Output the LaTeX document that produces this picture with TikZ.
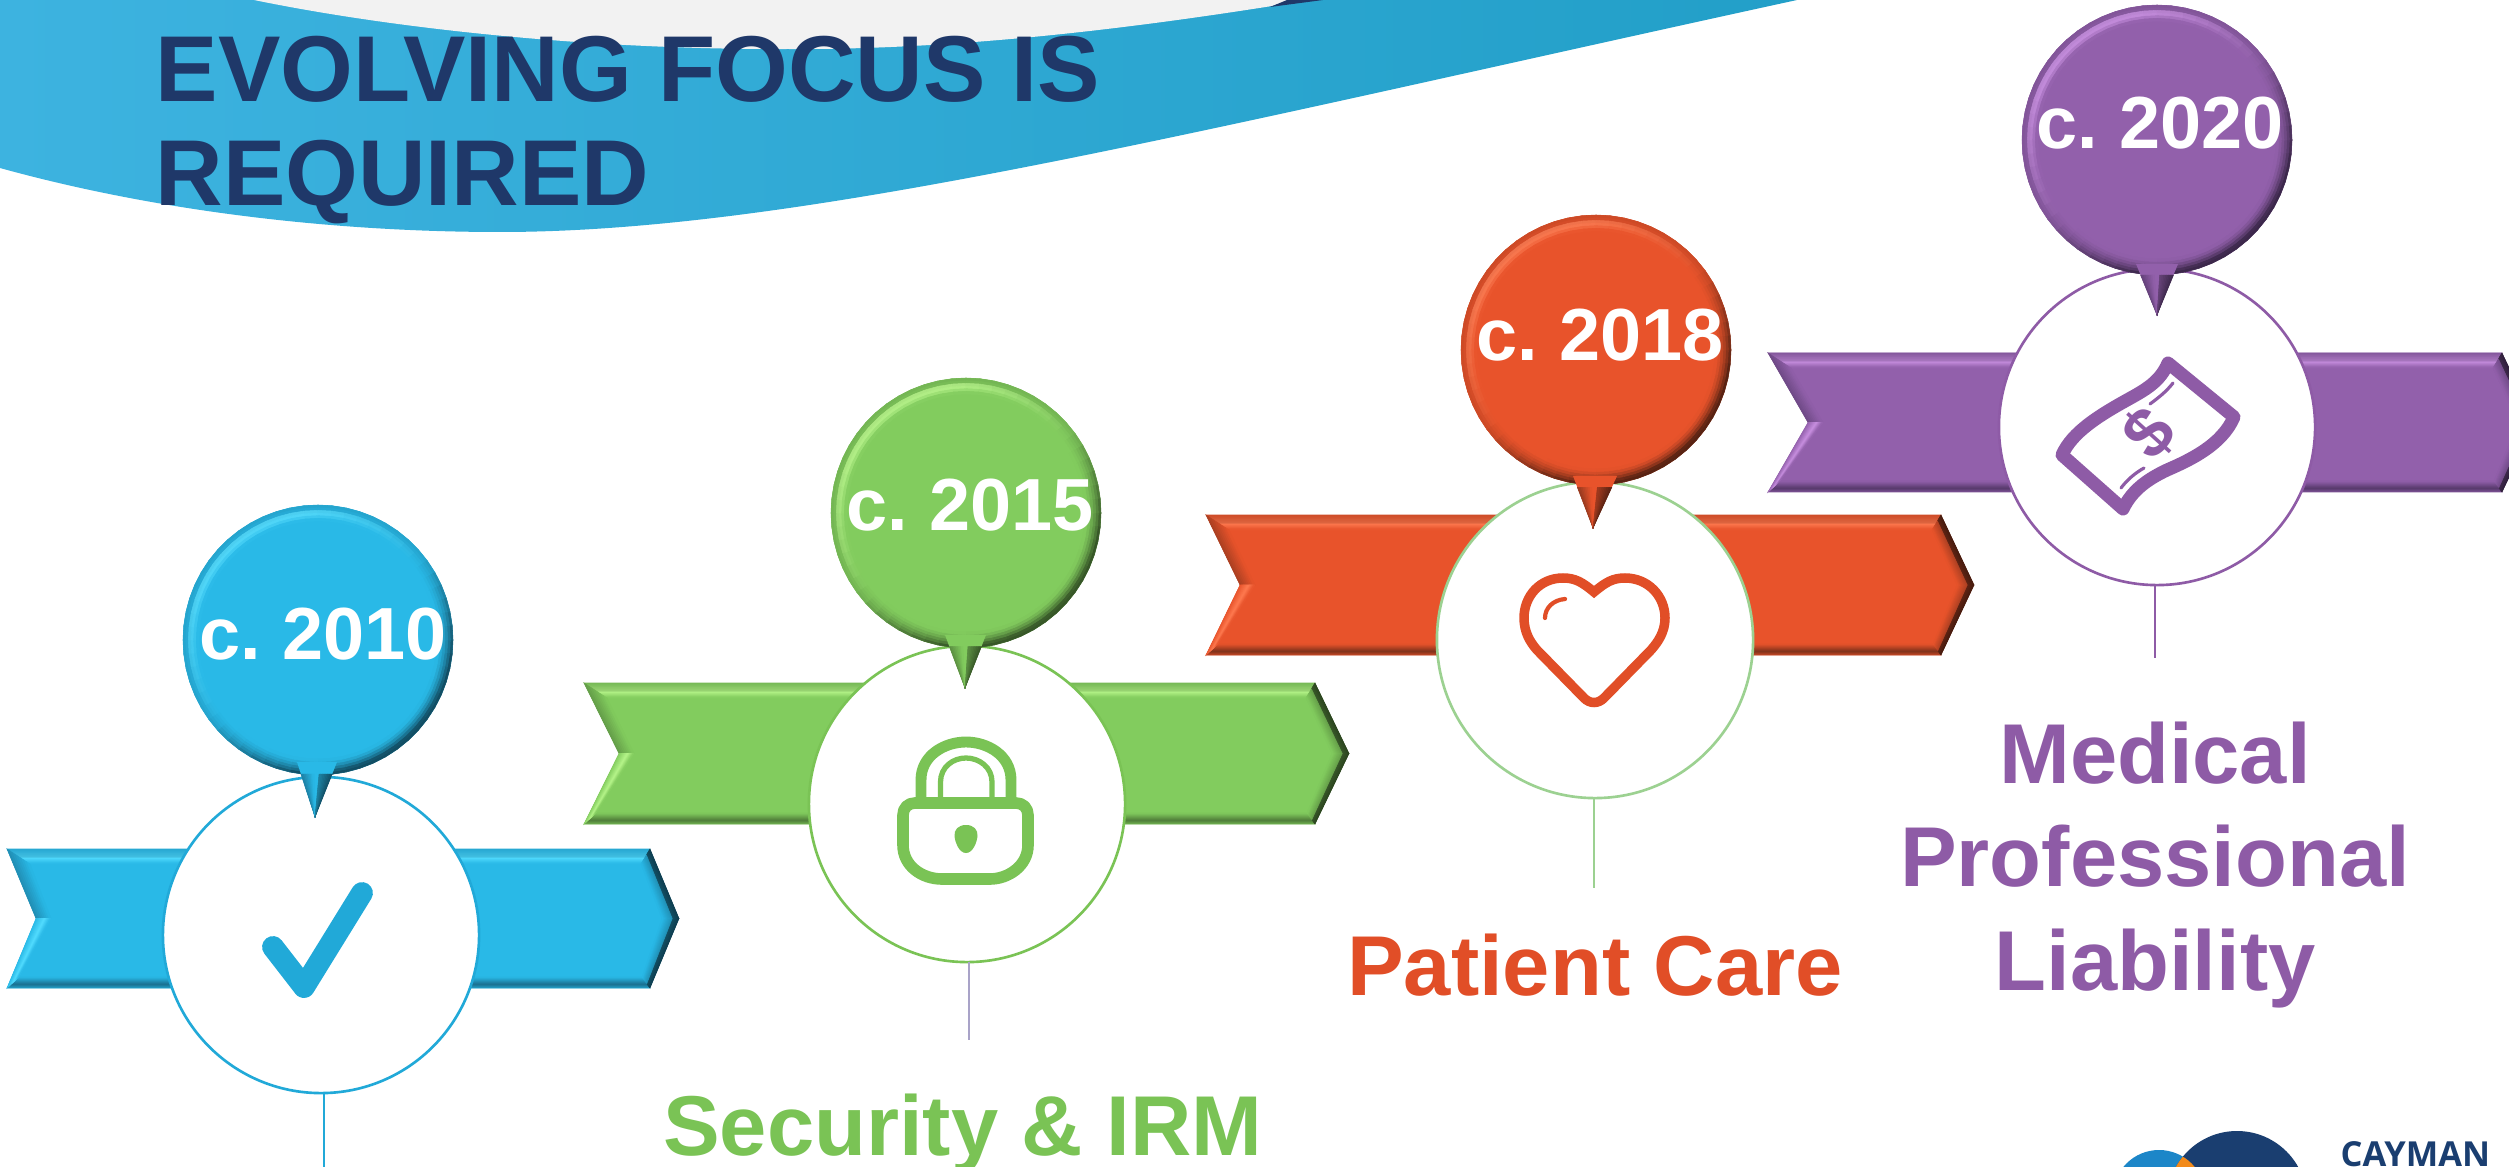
\documentclass[tikz,border=0pt]{standalone}
\usepackage{fontspec}
\setmainfont{Liberation Sans}
\newfontfamily\logofont{Open Sans}
\newfontfamily\yearfont[WordSpace=0.72]{Liberation Sans}
\usetikzlibrary{calc}
\definecolor{bB}{HTML}{29B9E7}\definecolor{bL}{HTML}{52DCFF}\definecolor{bD}{HTML}{1A6F8F}\definecolor{bI}{HTML}{21A9D8}
\definecolor{gB}{HTML}{82CC5E}\definecolor{gL}{HTML}{B6F58A}\definecolor{gD}{HTML}{4F7C39}\definecolor{gI}{HTML}{7AC355}
\definecolor{oB}{HTML}{E8532B}\definecolor{oL}{HTML}{FF7A50}\definecolor{oD}{HTML}{7E321B}\definecolor{oI}{HTML}{E14E27}
\definecolor{pB}{HTML}{9260AB}\definecolor{pL}{HTML}{C88FE0}\definecolor{pD}{HTML}{56396B}\definecolor{pI}{HTML}{8E5BA6}
\definecolor{oR}{HTML}{9CD191}\definecolor{gC}{HTML}{A9A3C8}
\definecolor{navy}{HTML}{1F3869}\definecolor{swL}{HTML}{3DB3E0}\definecolor{swR}{HTML}{229FC8}
\definecolor{logoD}{HTML}{1A3E70}\definecolor{logoL}{HTML}{1C86C8}\definecolor{logoO}{HTML}{F28A1A}
\newcommand{\bandfacet}[6]{%
  \foreach \i in {0,...,7}{%
    \pgfmathsetmacro\ta{\i/8}\pgfmathsetmacro\tb{(\i+1)/8}\pgfmathtruncatemacro\pc{100*(\i+.5)/8}%
    \path[fill=#6!\pc!#5,draw=#6!\pc!#5,line width=.15pt]
      ($(#1)!\ta!(#4)$) -- ($(#2)!\ta!(#3)$) -- ($(#2)!\tb!(#3)$) -- ($(#1)!\tb!(#4)$) -- cycle;
  }}
% x0 xnotch xshoulder xtip ytop ybot base light dark
\newcommand{\ribbonshape}[9]{%
  \pgfmathsetmacro\ymid{(#5+#6)/2}%
  \coordinate (TL) at (#1,#5);\coordinate (TR) at (#3,#5);\coordinate (TP) at (#4,\ymid);
  \coordinate (BR) at (#3,#6);\coordinate (BL) at (#1,#6);\coordinate (NT) at (#2,\ymid);
  \coordinate (iTL) at ({#1+23},{#5+15});\coordinate (iTR) at ({#3-9},{#5+15});\coordinate (iTP) at ({#4-17},\ymid);
  \coordinate (iBR) at ({#3-8},{#6-11});\coordinate (iBL) at ({#1+12},{#6-11});\coordinate (iNT) at ({#2+15},\ymid);
  \fill[#7] (TL)--(TR)--(TP)--(BR)--(BL)--(NT)--cycle;
  \coordinate (mTL) at ($(TL)!.6!(iTL)$);\coordinate (mTR) at ($(TR)!.6!(iTR)$);
  \bandfacet{TL}{TR}{mTR}{mTL}{#7!75!#9}{#8}
  \bandfacet{mTL}{mTR}{iTR}{iTL}{#8}{#7}
  \coordinate (mBL) at ($(BL)!.35!(iBL)$);\coordinate (mBR) at ($(BR)!.35!(iBR)$);
  \bandfacet{BL}{BR}{mBR}{mBL}{#7!70!#9}{#9}
  \bandfacet{mBL}{mBR}{iBR}{iBL}{#9}{#7}
  \coordinate (qTR) at ($(TR)!.4!(iTR)$);\coordinate (qTP) at ($(TP)!.4!(iTP)$);\coordinate (qBR) at ($(BR)!.4!(iBR)$);
  \bandfacet{TR}{TP}{qTP}{qTR}{#9!55!black}{#9!55!#7}
  \bandfacet{qTR}{qTP}{iTP}{iTR}{#9!55!#7}{#7}
  \bandfacet{TP}{BR}{qBR}{qTP}{#9!55!black}{#9!55!#7}
  \bandfacet{qTP}{qBR}{iBR}{iTP}{#9!55!#7}{#7}
  \bandfacet{TL}{NT}{iNT}{iTL}{#9!60!#7}{#7}
  \coordinate (mLL) at ($(BL)!.6!(iBL)$);\coordinate (mNN) at ($(NT)!.6!(iNT)$);
  \bandfacet{BL}{NT}{mNN}{mLL}{#7}{#8}
  \bandfacet{mLL}{mNN}{iNT}{iBL}{#8}{#7}
}
% cx cy tailL tailR tailY tipx tipy prefix
\newcommand{\balloonshape}[8]{%
  \colorlet{cbase}{#8B}\colorlet{clight}{#8L}\colorlet{cdark}{#8D}%
  \fill[cbase] (#1,#2) circle[radius=135];
  \begin{scope}[shift={(#1,#2)}]
  \foreach \a in {0,6,...,354}{%
    \foreach \j in {0,...,5}{%
      \pgfmathsetmacro\s{(\j+.5)/6}%
      \pgfmathsetmacro\v{cos(\a+130)}%
      \pgfmathtruncatemacro\Lt{min(100,125*max(\v,0)*pow(sin(180*\s),2)*(\s>.25))}%
      \pgfmathtruncatemacro\Dk{min(100,100*(max(-\v,0)*1.25+.22)*pow(1-\s,1.5))}%
      \pgfmathsetmacro\ro{135-16*\j/6}\pgfmathsetmacro\ri{135-16*(\j+1)/6}%
      \colorlet{ca}{clight!\Lt!cbase}%
      \colorlet{cz}{cdark!70!black}%
      \path[fill=cz!\Dk!ca,draw=cz!\Dk!ca,line width=.15pt]
        (\a:\ro) -- ({\a+6}:\ro) -- ({\a+6}:\ri) -- (\a:\ri) -- cycle;
    }}
  \end{scope}
  \coordinate (tL) at (#3,#5);\coordinate (tR) at (#4,#5);\coordinate (tP) at (#6,#7);
  \fill[cbase] (tL)--(tR)--(tP)--cycle;
  \coordinate (sL) at ($(tL)!.22!(tP)$);\coordinate (sR) at ($(tR)!.22!(tP)$);
  \coordinate (tiL) at ($(sL)!.42!(sR)$);\coordinate (tiR) at ($(sR)!.42!(sL)$);
  \bandfacet{sL}{tP}{tP}{tiL}{cdark!80!cbase}{cbase}
  \bandfacet{sR}{tP}{tP}{tiR}{cdark!70!black}{cbase}
}
\tikzset{
  ring/.style={circle,draw=#1,fill=white,line width=.75pt,minimum size=3.16cm,inner sep=0pt,outer sep=0pt},
  conn/.style={draw=#1,line width=.5pt},
  yeartext/.style={anchor=base,text=white,inner sep=0pt,font=\yearfont\fontsize{21}{26}\selectfont\bfseries},
  lab/.style={text=#1,anchor=base,inner sep=0pt,text depth=0pt,font=\fontsize{24.15}{29.3}\selectfont\bfseries},
  icon/.style={draw=#1,line cap=round,line join=round}
}
\begin{document}
\begin{tikzpicture}[x=0.01cm,y=-0.01cm]
\useasboundingbox (0,0) rectangle (2509,1167);
\clip (0,0) rectangle (2509,1167);
\fill[white] (0,0) rectangle (2509,1167);
% swoosh
\path[left color=swL,right color=swR] (0,0) -- (1797,0) .. controls (1200,130) and (800,232) .. (500,232)
   .. controls (350,232) and (170,215) .. (0,168) -- cycle;
\fill[black!5] (254,0) .. controls (400,30) and (600,50) .. (788,49) .. controls (950,50) and (1120,30) .. (1272,6) -- (1290,0) -- cycle;
\fill[navy] (1270,7) -- (1287,0) -- (1323,0) -- cycle;
\node[anchor=north west,inner sep=0pt,align=left,text=navy,font=\fontsize{26.6}{29.6}\selectfont\bfseries] (title) at (155,35) {EVOLVING FOCUS IS\\REQUIRED};
% ---------- blue
\ribbonshape{7}{36}{650}{679}{849}{988}{bB}{bL}{bD}
\node[ring=bI] (c1) at (321,935) {};
\draw[icon=bI,line width=6.2pt] (273,947) -- (304,987) -- (362,893);
\balloonshape{318}{640}{297}{337}{762}{315}{817}{b}
\node[yeartext] (y1) at (323,659) {c. 2010};
\coordinate (e1) at (324,1167);
\draw[conn=bI] (e1 |- c1.south) -- (e1);
% ---------- green
\ribbonshape{584}{619}{1315}{1349}{683}{824}{gB}{gL}{gD}
\node[ring=gI] (c2) at (967,804) {};
\draw[icon=gI,line width=3.3pt] (915,803) -- (1016,803) .. controls (1023,803) and (1028,808) .. (1028,815) -- (1028,845) .. controls (1028,866) and (1008,879) .. (990,879) -- (942,879) .. controls (922,879) and (903,866) .. (903,845) -- (903,815) .. controls (903,808) and (908,803) .. (915,803) -- cycle;
\draw[icon=gI,line width=3.1pt,line cap=butt] (921,797) -- (921,780) .. controls (921,755) and (945,742) .. (966,742) .. controls (987,742) and (1011,755) .. (1011,780) -- (1011,797);
\draw[icon=gI,line width=1.5pt,line cap=butt] (940.5,797) -- (940.5,782) .. controls (940.5,767) and (953,758) .. (966,758) .. controls (979,758) and (992,767) .. (992,782) -- (992,797);
\fill[gI] (966,825) .. controls (958,825) and (954,830) .. (954.5,836) .. controls (955,842) and (959,853) .. (966,853) .. controls (973,853) and (977,842) .. (977.5,836) .. controls (978,830) and (974,825) .. (966,825) -- cycle;
\balloonshape{966}{513}{945}{986}{635}{965}{688}{g}
\node[yeartext] (y2) at (970,531) {c. 2015};
\coordinate (e2) at (969,1040);
\draw[conn=gC] (e2 |- c2.south) -- (e2);
\node[lab=gI] (l2) at (963,1155) {Security \& IRM};
% ---------- orange
\ribbonshape{1206}{1240}{1941}{1974}{515}{655}{oB}{oL}{oD}
\node[ring=oR] (c3) at (1595,640) {};
\draw[icon=oI,line width=2.7pt,line join=miter] (1594,592) .. controls (1582,582) and (1575,578) .. (1563,578) .. controls (1540,578) and (1524,596) .. (1524,618) .. controls (1524,632) and (1530,642) .. (1537,650) -- (1584,698) .. controls (1590,704) and (1598,704) .. (1604,698) -- (1651,650) .. controls (1658,642) and (1665,632) .. (1665,618) .. controls (1665,596) and (1648,578) .. (1625,578) .. controls (1613,578) and (1606,582) .. (1594,592) -- cycle;
\draw[icon=oI,line width=1.2pt] (1565,599) .. controls (1553,600) and (1545,608) .. (1545,618);
\balloonshape{1596}{350}{1573}{1617}{476}{1593}{528}{o}
\node[yeartext] (y3) at (1600,361) {c. 2018};
\coordinate (e3) at (1594,888);
\draw[conn=oR] (e3 |- c3.south) -- (e3);
\node[lab=oI] (l3) at (1595,995) {Patient Care};
% ---------- purple
\ribbonshape{1768}{1808}{2502}{2535}{353}{492}{pB}{pL}{pD}
\node[ring=pI] (c4) at (2157,427) {};
\draw[icon=pI,line width=3.7pt] (2168,363) -- (2234,417) .. controls (2222,445) and (2190,460) .. (2167,470) .. controls (2148,479) and (2132,490) .. (2123,509) -- (2062,455) .. controls (2072,432) and (2100,415) .. (2127,400) .. controls (2145,390) and (2160,382) .. (2168,363) -- cycle;
\draw[icon=pI,line width=.9pt] (2173,383) .. controls (2166,392) and (2158,398) .. (2150,404);
\draw[icon=pI,line width=.9pt] (2144,468) .. controls (2135,473) and (2127,480) .. (2121,488);
\node[rotate=48,inner sep=0pt,text=pI,font=\fontsize{20}{20}\selectfont\bfseries] (dollar) at (2149,433) {\$};
\balloonshape{2157}{140}{2136}{2178}{264}{2157}{315}{p}
\node[yeartext] (y4) at (2160,149) {c. 2020};
\coordinate (e4) at (2155,658);
\draw[conn=pI] (e4 |- c4.south) -- (e4);
\node[lab=pI,anchor=center,align=center,text depth=] (l4) at (2155,865) {Medical\\Professional\\Liability};
% ---------- logo
\fill[logoL] (2159,1196) circle[radius=46];
\fill[logoD] (2237,1201) circle[radius=70];
\begin{scope}
\clip (2237,1201) circle[radius=70];
\fill[logoO] (2159,1196) circle[radius=46];
\end{scope}
\node[anchor=base west,inner sep=0pt,text depth=0pt,text=logoD,font=\logofont\fontsize{9.8}{10}\selectfont\bfseries] (logo) at (2340,1166) {CAYMAN};
\end{tikzpicture}
\end{document}
